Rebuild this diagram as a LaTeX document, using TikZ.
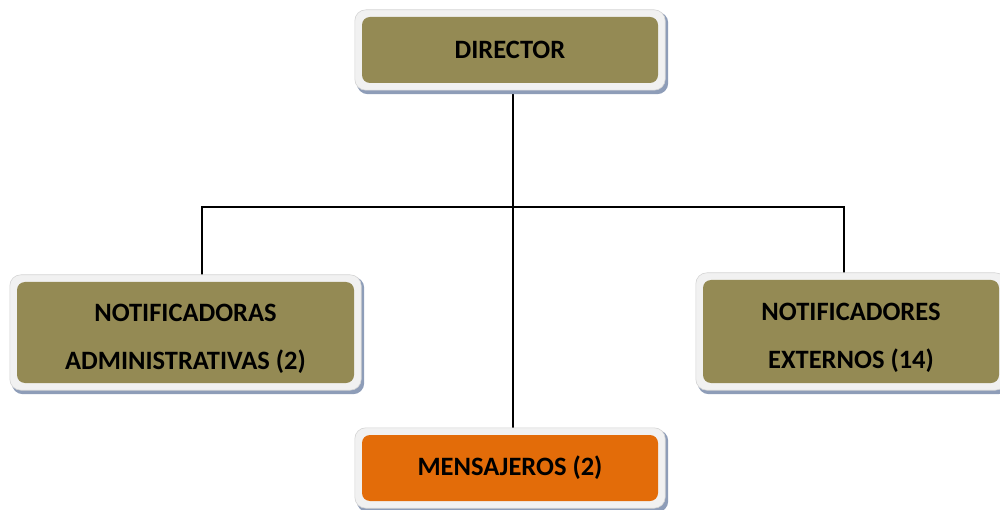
\documentclass[tikz,border=0pt]{standalone}
\usepackage{fontspec}
\setmainfont{Carlito}
\usetikzlibrary{calc}
\definecolor{olivec}{HTML}{948A54}
\definecolor{orangec}{HTML}{E36C09}
\definecolor{framec}{HTML}{F1F1F1}
\definecolor{framed}{HTML}{D4D4D4}
\definecolor{shadowc}{HTML}{8E9DB8}
\pgfdeclarelayer{lines}
\pgfdeclarelayer{frames}
\pgfsetlayers{lines,frames,main}
\tikzset{
  unitbox/.style={rounded corners=8pt, inner sep=0pt, align=center,
    font=\bfseries\fontsize{26.5}{48}\selectfont, text=black},
  olivebox/.style={unitbox, fill=olivec},
  orangebox/.style={unitbox, fill=orangec},
  framepath/.style={fill=framec, draw=framed, line width=0.6pt, rounded corners=11pt},
  shadowpath/.style={fill=shadowc, rounded corners=11pt},
  conn/.style={draw=black, line width=1.4pt}
}
\newcommand{\orgframe}[1]{%
  \fill[shadowpath] ($(#1.north west)+(-5,-5)$) rectangle ($(#1.south east)+(10,11)$);
  \draw[framepath] ($(#1.north west)+(-7,-7)$) rectangle ($(#1.south east)+(7,7)$);
}
\newcommand{\toprule}{\rule{0pt}{30pt}}
\begin{document}
\begin{tikzpicture}[x=1pt,y=-1pt]
\useasboundingbox (0,0) rectangle (1000,510);
\node[olivebox, minimum width=296pt, minimum height=66pt] (d) at (510,50) {DIRECTOR};
\node[olivebox, minimum width=337pt, minimum height=101pt] (l) at (185.5,332.5) {\toprule NOTIFICADORAS\\ADMINISTRATIVAS (2)};
\node[olivebox, minimum width=296pt, minimum height=103pt] (r) at (851,331.5) {\toprule NOTIFICADORES\\EXTERNOS (14)};
\node[orangebox, minimum width=296pt, minimum height=66pt] (m) at (510,468) {MENSAJEROS (2)};
\begin{pgfonlayer}{frames}
\orgframe{d}
\orgframe{l}
\orgframe{r}
\orgframe{m}
\end{pgfonlayer}
\begin{pgfonlayer}{lines}
\coordinate (jl) at (202,207);
\coordinate (jr) at (844,207);
\draw[conn] ([xshift=3pt]d.south) -- ([xshift=3pt]m.north);
\draw[conn] (jl |- l.north) -- (jl) -- (jr) -- (jr |- r.north);
\end{pgfonlayer}
\end{tikzpicture}
\end{document}
